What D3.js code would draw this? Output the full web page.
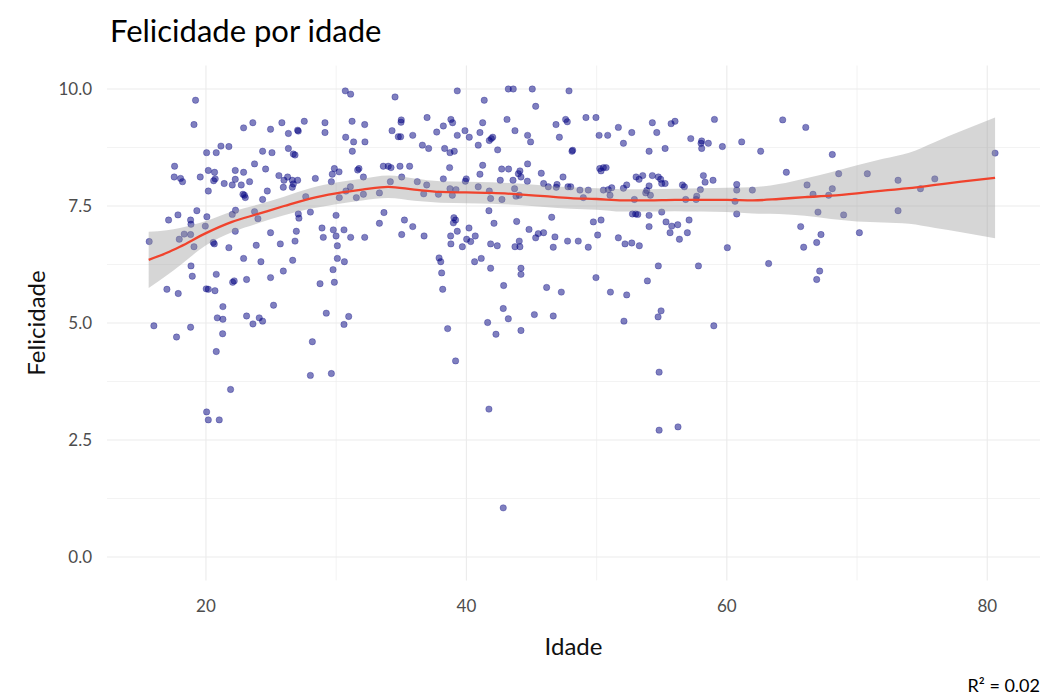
<!DOCTYPE html>
<html>
<head>
<meta charset="utf-8">
<script src="https://cdn.jsdelivr.net/npm/d3@7"></script>
<style>
body { margin: 0; background: #fff; }
text { font-family: Lato, "Open Sans", sans-serif; }
</style>
</head>
<body>
<svg width="1045" height="698"></svg>
<script>
// [idade, felicidade]
var pontos = [
  [19.2,9.76],[19.08,9.24],[22.89,9.17],[23.6,9.28],[24.96,9.14],[25.83,9.28],[21.15,8.78],[21.76,8.77],
  [20.05,8.64],[20.79,8.64],[24.35,8.67],[25.07,8.64],[17.59,8.35],[17.56,8.12],[18.05,8.09],[18.2,8.02],
  [19.56,8.12],[20.18,8.26],[20.66,8.22],[20.59,8.04],[20.71,8.08],[21.4,7.98],[22.02,7.95],[22.25,8.26],
  [22.89,8.22],[22.25,8.07],[22.71,7.95],[23.35,8.02],[23.73,8.40],[24.58,8.29],[25.6,8.15],[25.99,8.05],
  [25.94,7.90],[20.18,7.82],[22.84,7.75],[23.02,7.68],[22.95,7.73],[24.71,7.82],[24.35,7.64],[22.27,7.41],
  [22.02,7.32],[23.73,7.38],[23.99,7.23],[19.3,7.40],[20.07,7.27],[19.95,7.07],[18.82,7.20],[18.85,7.11],
  [17.85,7.31],[17.13,7.20],[18.33,6.90],[18.82,6.89],[17.95,6.79],[19.08,6.63],[15.64,6.74],[20.56,6.72],
  [20.64,6.69],[22.25,6.96],[21.76,6.61],[24.96,6.93],[23.86,6.66],[25.71,6.69],[22.89,6.38],[24.22,6.31],
  [18.85,6.22],[18.95,6.0],[20.79,6.04],[22.05,5.87],[22.17,5.90],[23.12,5.93],[24.96,5.97],[25.94,6.11],
  [17.0,5.72],[17.87,5.63],[20.18,5.72],[20.69,5.69],[20.02,5.73],
  [21.3,5.35],[20.87,5.11],[21.3,5.08],[16.0,4.94],[18.82,4.91],[17.74,4.70],[21.28,4.77],[20.79,4.39],
  [23.12,5.15],[24.09,5.11],[24.35,5.04],[23.61,4.98],[25.19,5.38],[21.89,3.58],[20.05,3.1],[20.18,2.93],
  [21.02,2.93],
  [30.7,9.96],[31.11,9.89],[34.52,9.83],[35.0,9.34],[34.98,9.29],[36.98,9.39],[27.55,9.31],[29.14,9.28],
  [29.14,9.07],[31.22,9.31],[32.19,9.24],[27.04,9.12],[27.09,9.10],[26.33,9.05],[34.29,9.11],[34.77,8.98],
  [34.95,8.98],[35.88,9.01],[37.72,9.08],[30.73,8.97],[31.34,8.87],[32.21,8.87],[31.24,8.67],[36.62,8.80],
  [37.1,8.73],[26.33,8.73],[26.71,8.61],[26.84,8.59],[29.86,8.30],[30.22,8.23],[29.7,8.18],[31.75,8.30],
  [31.65,8.27],[33.62,8.35],[34.0,8.35],[34.21,8.32],[34.9,8.35],[35.64,8.35],[32.09,8.12],[28.4,8.09],
  [26.27,8.12],[26.63,8.05],[27.04,8.05],[26.71,7.97],[26.63,7.90],[29.63,8.02],[34.16,8.02],[35.03,8.12],
  [36.23,8.02],[36.95,7.95],[31.09,7.91],[30.75,7.82],[32.09,7.75],[31.55,7.68],[33.32,7.78],[36.72,7.76],
  [37.85,7.75],[30.24,7.68],[27.66,7.70],[27.09,7.33],[27.14,7.24],[28.02,7.37],[29.99,7.30],[33.67,7.36],
  [33.32,7.13],[35.24,7.20],[35.88,7.06],[35.03,6.89],[36.75,6.86],[28.91,7.03],[29.78,6.99],[30.6,6.99],
  [26.94,6.96],[29.01,6.83],[29.99,6.86],[31.11,6.83],[32.19,6.83],[26.84,6.75],[30.09,6.65],[30.09,6.38],
  [30.63,6.31],[26.66,6.34],[29.76,6.14],[28.76,5.84],[29.86,5.87],[37.9,6.39],[38.03,6.31],[38.1,6.07],
  [38.18,5.72],
  [29.24,5.21],[30.96,5.14],[30.6,4.97],[28.17,4.60],[28.02,3.88],[29.63,3.92],
  [39.3,9.96],[43.22,10.0],[43.6,10.0],[45.06,10.0],[47.88,9.96],[41.37,9.76],[45.32,9.63],[43.12,9.35],
  [38.81,9.35],[38.94,9.28],[41.25,9.28],[47.62,9.35],[47.75,9.30],[46.88,9.24],[49.18,9.39],[49.95,9.39],
  [38.23,9.21],[39.89,9.11],[40.22,8.97],[39.3,9.01],[41.04,9.07],[40.91,8.80],[41.76,8.90],[42.02,8.97],
  [41.91,8.94],[43.73,9.11],[44.7,9.01],[44.93,8.87],[47.14,8.97],[42.4,8.70],[48.16,8.69],[48.11,8.67],
  [38.33,8.73],[38.74,8.64],[39.07,8.67],[38.71,8.32],[41.25,8.37],[41.04,8.18],[42.71,8.29],[43.24,8.29],
  [44.7,8.40],[44.11,8.25],[43.99,8.19],[44.19,8.12],[43.58,8.05],[44.68,8.03],[42.6,8.05],[39.99,8.08],
  [39.92,8.03],[38.23,8.08],[40.91,7.91],[45.75,8.20],[45.93,7.98],[46.29,7.91],[46.96,7.96],[46.9,7.90],
  [47.42,8.12],[47.8,7.91],[48.01,7.91],[48.72,7.84],[49.36,7.84],[38.74,7.87],[38.92,7.73],[39.2,7.85],
  [43.7,7.87],[43.81,7.71],[44.06,7.73],[41.76,7.82],[41.86,7.66],[42.73,7.64],[41.73,7.40],[48.98,7.68],
  [39.04,7.25],[39.17,7.20],[39.0,7.14],[42.12,7.13],[43.86,7.17],[46.55,7.26],[49.75,7.16],[40.2,7.03],
  [39.3,6.96],[38.79,6.86],[38.81,6.69],[40.02,6.79],[40.33,6.74],[40.68,6.86],[39.69,6.63],[44.81,7.0],
  [45.32,6.82],[45.52,6.91],[45.93,6.93],[46.8,6.84],[46.67,6.62],[47.77,6.75],[48.59,6.75],[49.36,6.62],
  [50.08,6.88],[41.86,6.69],[42.37,6.65],[43.73,6.63],[44.06,6.75],[44.11,6.63],[40.63,6.31],[41.14,6.38],
  [41.86,6.17],[44.19,6.17],[44.19,6.04],[42.86,5.80],[46.16,5.76],[47.29,5.66],[49.95,5.97],
  [42.83,5.31],[41.63,5.01],[43.22,5.09],[42.27,4.76],[44.19,4.84],[45.22,5.18],[46.67,5.15],[38.56,4.88],
  [39.17,4.19],[41.73,3.16],[42.83,1.05],
  [50.19,9.01],[50.85,9.01],[51.67,9.18],[52.7,9.07],[52.06,8.84],[54.28,9.28],[54.62,9.07],[55.72,9.26],
  [56.02,9.31],[59.05,9.35],[54.03,8.67],[55.26,8.73],[57.23,8.94],[58.07,8.89],[58.02,8.84],[58.58,8.84],
  [58.07,8.73],[59.66,8.77],[61.14,8.87],[50.24,8.30],[50.52,8.32],[50.73,8.32],[50.34,8.25],[53.03,8.12],
  [53.26,8.07],[53.54,8.15],[54.28,8.15],[54.74,8.12],[54.92,8.07],[55.0,7.98],[55.26,7.98],[52.31,7.95],
  [52.06,7.88],[54.03,7.93],[53.85,7.83],[53.77,7.78],[54.13,7.73],[56.59,7.95],[56.74,7.91],[58.2,8.15],
  [58.33,8.01],[58.94,8.05],[57.97,7.85],[57.69,7.71],[57.64,7.64],[56.84,7.64],[60.76,7.96],[60.76,7.84],
  [61.96,7.84],[50.52,7.84],[50.9,7.85],[51.16,7.89],[51.03,7.73],[52.9,7.64],[60.63,7.60],[60.76,7.33],
  [52.75,7.33],[53.0,7.33],[53.16,7.32],[54.03,7.30],[55.0,7.37],[54.03,7.06],[55.33,7.16],[55.77,7.07],
  [56.23,7.10],[57.1,7.20],[55.64,6.93],[56.97,6.93],[56.36,6.79],[50.34,7.20],[51.67,6.82],[52.18,6.69],
  [52.7,6.71],[53.28,6.65],[60.04,6.61],[54.74,6.22],[57.82,6.22],[53.9,5.90],[51.06,5.66],[52.31,5.60],
  [52.1,5.04],[54.72,5.13],[54.95,5.26],[54.8,3.95],[54.8,2.71],[56.25,2.78],[59.0,4.94],
  [64.29,9.34],[66.06,9.18],[62.6,8.67],[68.1,8.60],[64.57,8.22],[68.59,8.19],[70.79,8.19],[73.15,8.05],
  [66.16,7.95],[66.62,7.75],[67.82,7.73],[68.1,7.87],[67.0,7.37],[68.97,7.31],[73.15,7.40],[65.67,7.06],
  [67.23,6.89],[70.18,6.93],[66.9,6.72],[65.9,6.62],[63.21,6.27],[67.13,6.11],[66.9,5.93],
  [74.87,7.87],[75.97,8.08],[80.6,8.63]
];

// loess curve and its confidence band
var idadeAjuste = [15.6, 17, 18, 20, 22, 24, 26, 28, 30, 32, 34, 36, 38, 40, 42, 44, 46, 48, 50, 52, 54, 56, 58, 60, 62, 64, 66, 68, 70, 72, 74, 76, 78, 80.6];
var ajuste = [6.35, 6.50, 6.63, 6.92, 7.16, 7.33, 7.50, 7.66, 7.77, 7.85, 7.91, 7.85, 7.80, 7.79, 7.78, 7.75, 7.71, 7.67, 7.65, 7.62, 7.62, 7.63, 7.63, 7.63, 7.62, 7.65, 7.69, 7.72, 7.77, 7.83, 7.88, 7.95, 8.02, 8.10];
var ajusteSup = [6.95, 6.98, 7.03, 7.18, 7.38, 7.53, 7.70, 7.88, 8.00, 8.08, 8.15, 8.09, 8.03, 8.02, 8.01, 7.98, 7.94, 7.90, 7.88, 7.86, 7.86, 7.87, 7.88, 7.89, 7.90, 7.97, 8.09, 8.22, 8.37, 8.51, 8.64, 8.87, 9.10, 9.39];
var ajusteInf = [5.75, 6.02, 6.23, 6.66, 6.94, 7.13, 7.30, 7.44, 7.54, 7.62, 7.67, 7.61, 7.57, 7.56, 7.55, 7.52, 7.48, 7.44, 7.42, 7.38, 7.38, 7.39, 7.38, 7.37, 7.34, 7.33, 7.29, 7.22, 7.17, 7.15, 7.12, 7.03, 6.94, 6.81];

var xTicks = [20, 40, 60, 80];
var xMinor = [30, 50, 70];
var yTicks = [0, 2.5, 5, 7.5, 10];
var yMinor = [1.25, 3.75, 6.25, 8.75];

var svg = d3.select('svg');
var panel = {l: 107, r: 1040, t: 65.6, b: 580.4};

var xScale = d3.scaleLinear().domain([12.4, 84.05]).range([panel.l, panel.r]);
var yScale = d3.scaleLinear().domain([-0.5, 10.5]).range([panel.b, panel.t]);

// grid
var grid = svg.append('g');
grid.selectAll('.ymin').data(yMinor).enter().append('line')
    .attr('x1', panel.l).attr('x2', panel.r)
    .attr('y1', yScale).attr('y2', yScale)
    .attr('stroke', '#ebebeb').attr('stroke-width', 0.6);
grid.selectAll('.xmin').data(xMinor).enter().append('line')
    .attr('y1', panel.t).attr('y2', panel.b)
    .attr('x1', xScale).attr('x2', xScale)
    .attr('stroke', '#ebebeb').attr('stroke-width', 0.6);
grid.selectAll('.ymaj').data(yTicks).enter().append('line')
    .attr('x1', panel.l).attr('x2', panel.r)
    .attr('y1', yScale).attr('y2', yScale)
    .attr('stroke', '#ebebeb').attr('stroke-width', 1.1);
grid.selectAll('.xmaj').data(xTicks).enter().append('line')
    .attr('y1', panel.t).attr('y2', panel.b)
    .attr('x1', xScale).attr('x2', xScale)
    .attr('stroke', '#ebebeb').attr('stroke-width', 1.1);

// points
svg.append('g').selectAll('circle')
    .data(pontos)
    .enter().append('circle')
    .attr('cx', function(d) { return xScale(d[0]); })
    .attr('cy', function(d) { return yScale(d[1]); })
    .attr('r', 3.2)
    .attr('fill', '#000080')
    .attr('fill-opacity', 0.5)
    .attr('stroke', '#000080')
    .attr('stroke-opacity', 0.35)
    .attr('stroke-width', 0.8);

// smooth band + line
var faixa = idadeAjuste.map(function(a, i) { return {x: a, lo: ajusteInf[i], hi: ajusteSup[i], y: ajuste[i]}; });

var area = d3.area()
    .x(function(d) { return xScale(d.x); })
    .y0(function(d) { return yScale(d.lo); })
    .y1(function(d) { return yScale(d.hi); })
    .curve(d3.curveMonotoneX);
svg.append('path').datum(faixa)
    .attr('d', area)
    .attr('fill', '#999999')
    .attr('fill-opacity', 0.4);

var line = d3.line()
    .x(function(d) { return xScale(d.x); })
    .y(function(d) { return yScale(d.y); })
    .curve(d3.curveMonotoneX);
svg.append('path').datum(faixa)
    .attr('d', line)
    .attr('fill', 'none')
    .attr('stroke', '#f0432d')
    .attr('stroke-width', 2.3);

// axes labels
svg.append('g').selectAll('text').data(yTicks).enter().append('text')
    .attr('x', 92).attr('y', yScale).attr('dy', '0.36em')
    .attr('text-anchor', 'end')
    .attr('fill', '#4d4d4d').style('font-size', '17px')
    .text(d3.format('.1f'));
svg.append('g').selectAll('text').data(xTicks).enter().append('text')
    .attr('x', xScale).attr('y', 612)
    .attr('text-anchor', 'middle')
    .attr('fill', '#4d4d4d').style('font-size', '17px')
    .text(function(d) { return d; });

svg.append('text')
    .attr('x', (panel.l + panel.r) / 2).attr('y', 655)
    .attr('text-anchor', 'middle')
    .style('font-size', '24px').attr('fill', '#111')
    .text('Idade');
svg.append('text')
    .attr('transform', 'translate(' + [45, (panel.t + panel.b) / 2] + ')rotate(-90)')
    .attr('text-anchor', 'middle')
    .style('font-size', '24px').attr('fill', '#111')
    .text('Felicidade');

svg.append('text')
    .attr('x', 110).attr('y', 42)
    .style('font-size', '31px').attr('fill', '#000')
    .text('Felicidade por idade');

svg.append('text')
    .attr('x', 1040).attr('y', 692)
    .attr('text-anchor', 'end')
    .style('font-size', '18px').attr('fill', '#000')
    .text('R² = 0.02');
</script>
</body>
</html>
